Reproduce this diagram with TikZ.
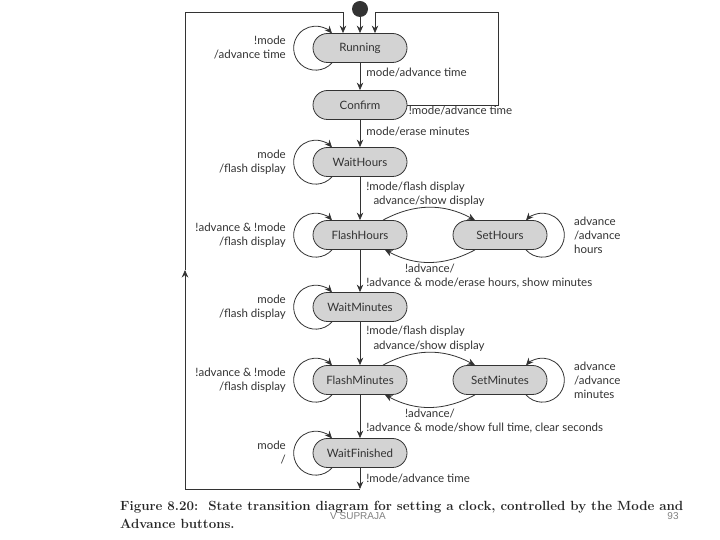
\documentclass[tikz,border=0pt]{standalone}
\usepackage{fontspec}
\setmainfont{Lato}
\newfontfamily\capfont{Latin Modern Roman}
\newfontfamily\markfont{Liberation Sans}
\usetikzlibrary{arrows.meta}
\definecolor{ink}{HTML}{333333}
\definecolor{statefill}{HTML}{D3D3D3}
\tikzset{state/.style={draw=ink, fill=statefill, rounded corners=14.5pt,
   minimum width=94pt, minimum height=29pt, line width=0.8pt,
   text=ink, font=\fontsize{11.5}{14}\selectfont},
 lbl/.style={text=ink, inner sep=1pt, font=\fontsize{11.5}{14}\selectfont},
 arr/.style={draw=ink, line width=0.8pt, -{Stealth[length=7.5pt,width=6.5pt]}},
 wire/.style={draw=ink, line width=0.8pt},
 }

\begin{document}
\begin{tikzpicture}[x=1pt, y=1pt]
        \useasboundingbox (0,0) rectangle (720,540);
        % states
        \node[state] (running) at (360,492) {Running};
        \node[state] (confirm) at (360,435) {Confirm};
        \node[state] (waithours) at (360,378) {WaitHours};
        \node[state] (flashhours) at (360,305) {FlashHours};
        \node[state] (sethours) at (500,305) {SetHours};
        \node[state] (waitminutes) at (360,233) {WaitMinutes};
        \node[state] (flashminutes) at (360,160) {FlashMinutes};
        \node[state] (setminutes) at (500,160) {SetMinutes};
        \node[state] (waitfinished) at (360,87) {WaitFinished};
        \node[circle, fill=ink, minimum size=16pt, inner sep=0pt] (start) at (360,531) {};
        % corners of the return lines
        \coordinate (topR) at (498,528);
        \coordinate (topL) at (185,528);
        \coordinate (midL) at (185,270);
        \coordinate (botL) at (185,51);
        \coordinate (botM) at (360,51);
        % main chain
        \draw[arr] (start) -- (running);
        \draw[arr] (running) -- node[lbl, right=5pt, pos=0.35] {mode/advance time} (confirm);
        \draw[arr] (confirm) -- node[lbl, right=5pt, pos=0.42] {mode/erase minutes} (waithours);
        \draw[arr] (waithours) -- node[lbl, right=5pt, pos=0.23] {!mode/flash display} (flashhours);
        \draw[arr] (flashhours) -- node[lbl, right=5pt, pos=0.79] {!advance \& mode/erase hours, show minutes} (waitminutes);
        \draw[arr] (waitminutes) -- node[lbl, right=5pt, pos=0.21] {!mode/flash display} (flashminutes);
        \draw[arr] (flashminutes) -- node[lbl, right=5pt, pos=0.77] {!advance \& mode/show full time, clear seconds} (waitfinished);
        % set states
        \draw[arr] ([xshift=23pt]flashhours.north) to[bend left=28] node[lbl, above] {advance/show display} ([xshift=-25pt]sethours.north);
        \draw[arr] ([xshift=-25pt]sethours.south) to[bend left=28] node[lbl, below] {!advance/} ([xshift=25pt]flashhours.south);
        \draw[arr] ([xshift=23pt]flashminutes.north) to[bend left=28] node[lbl, above] {advance/show display} ([xshift=-25pt]setminutes.north);
        \draw[arr] ([xshift=-25pt]setminutes.south) to[bend left=28] node[lbl, below] {!advance/} ([xshift=25pt]flashminutes.south);
        % self loops
        \foreach \s in {running, waithours, flashhours, waitminutes, flashminutes, waitfinished}
            \draw[arr] ([xshift=-28pt]\s.south) arc[start angle=-42, end angle=-318, radius=22pt];
        \foreach \s in {sethours, setminutes}
            \draw[arr] ([xshift=26pt]\s.south) arc[start angle=222, end angle=498, radius=22pt];
        \node[lbl, align=right, anchor=east] at ([xshift=-73pt]running.center) {!mode\\/advance time};
        \node[lbl, align=right, anchor=east] at ([xshift=-73pt]waithours.center) {mode\\/flash display};
        \node[lbl, align=right, anchor=east] at ([xshift=-73pt]flashhours.center) {!advance \& !mode\\/flash display};
        \node[lbl, align=right, anchor=east] at ([xshift=-73pt]waitminutes.center) {mode\\/flash display};
        \node[lbl, align=right, anchor=east] at ([xshift=-73pt]flashminutes.center) {!advance \& !mode\\/flash display};
        \node[lbl, align=right, anchor=east] at ([xshift=-73pt]waitfinished.center) {mode\\/};
        \node[lbl, align=left, anchor=west] at ([xshift=73pt]sethours.center) {advance\\/advance\\hours};
        \node[lbl, align=left, anchor=west] at ([xshift=73pt]setminutes.center) {advance\\/advance\\minutes};
        % return lines
        \draw[arr] (confirm.east) -- node[lbl, below right, pos=0] {!mode/advance time} (confirm.east -| topR) -- (topR) -| ([xshift=15pt]running.north);
        \draw[arr] (waitfinished) -- node[lbl, right=5pt, pos=0.5] {!mode/advance time} (botM);
        \draw[arr] (botM) -- (botL) -- (midL);
        \draw[arr] (midL) -- (topL) -| ([xshift=-17pt]running.north);
        % caption
        \node[anchor=west, align=left, inner sep=0pt, text=black!85,
            font=\capfont\bfseries\fontsize{13.3}{18}\selectfont] (caption) at (120,25)
            {Figure 8.20:\ \ State transition diagram for setting a clock, controlled by the Mode and\\Advance buttons.};
        \node[text=gray, font=\markfont\fontsize{10}{12}\selectfont] (author) at (358,24) {V SUPRAJA};
        \node[text=gray, font=\markfont\fontsize{10}{12}\selectfont] (page) at (673,24) {93};
    \end{tikzpicture}
\end{document}
